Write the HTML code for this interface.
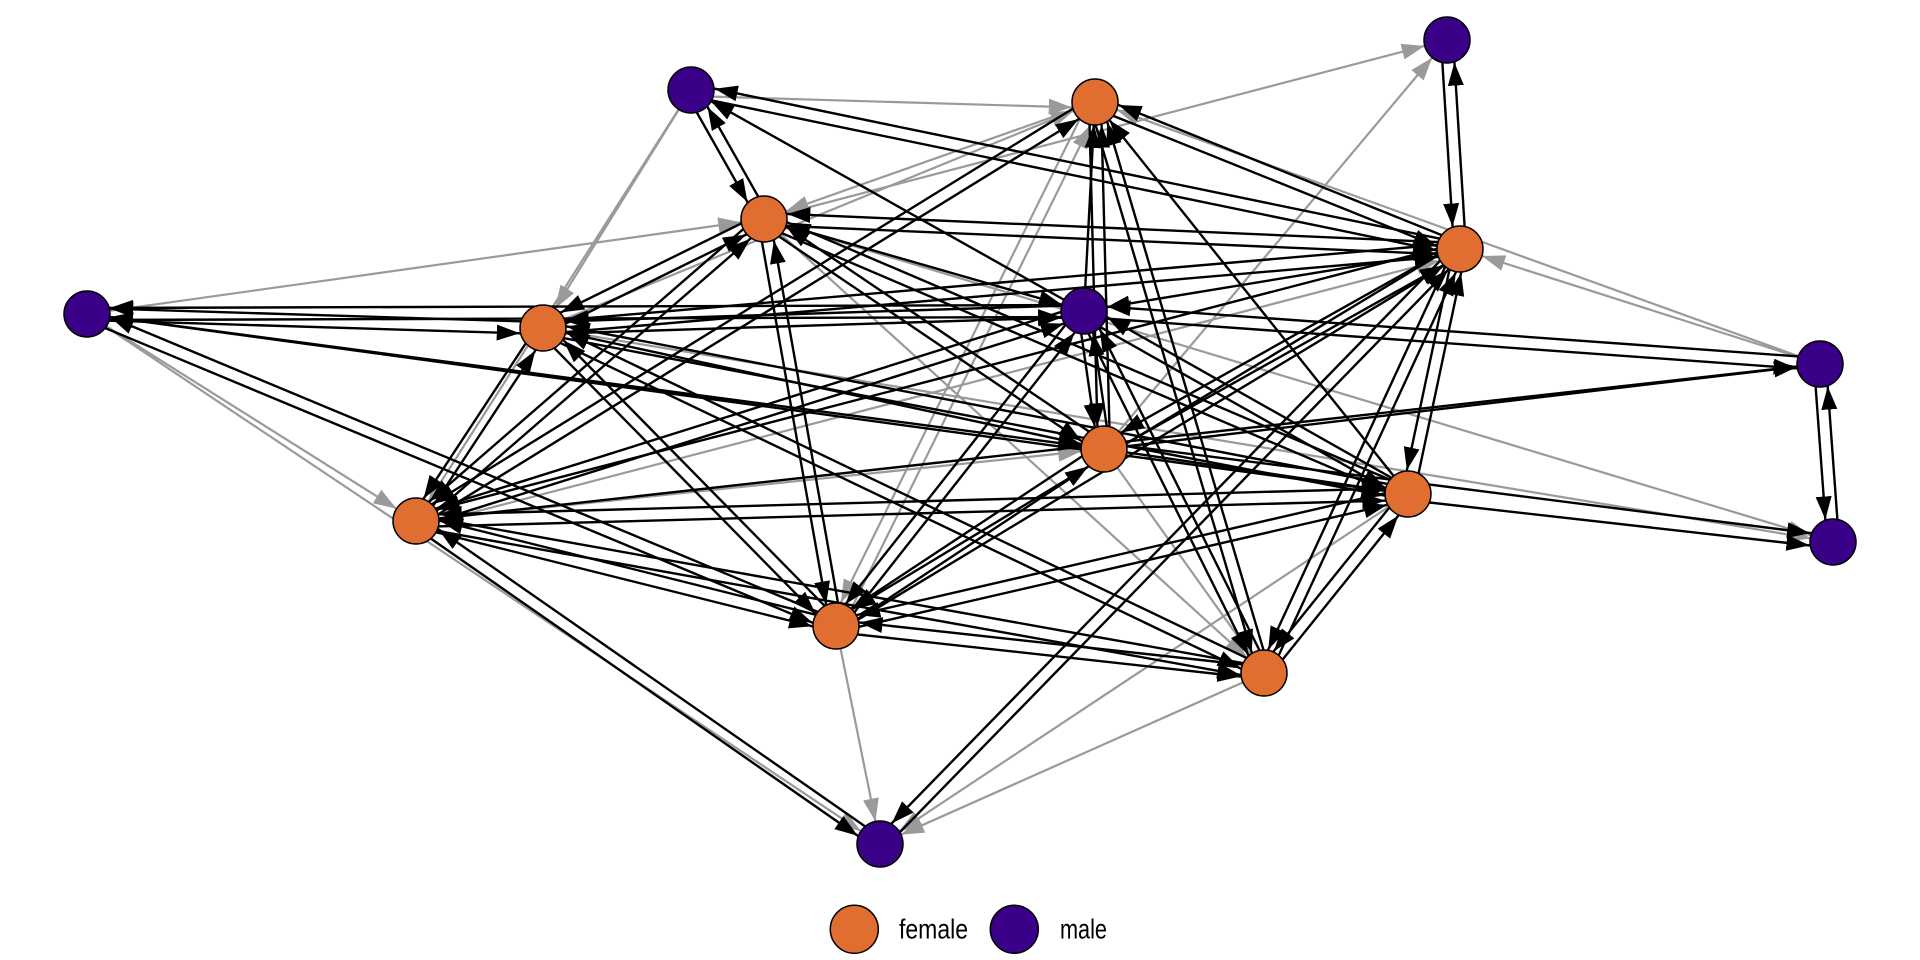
<!DOCTYPE html>
<html><head><meta charset="utf-8"><style>
html,body{margin:0;padding:0;background:#fff;}
svg{display:block;}
.g line{stroke:#9a9a9a;stroke-width:2.2;fill:none;marker-end:url(#mg);}
.b line{stroke:#000;stroke-width:2.4;fill:none;marker-end:url(#mb);}
.n circle{stroke:#000;stroke-width:1.5;}
</style></head><body>
<svg width="1920" height="960" viewBox="0 0 1920 960" xmlns="http://www.w3.org/2000/svg">
<defs>
<marker id="mb" markerUnits="userSpaceOnUse" markerWidth="23" markerHeight="17" refX="46" refY="8.5" orient="auto"><path d="M0,0.5 L23,8.5 L0,16.5 Z" fill="#000"/></marker>
<marker id="mg" markerUnits="userSpaceOnUse" markerWidth="23" markerHeight="17" refX="46" refY="8.5" orient="auto"><path d="M0,0.5 L23,8.5 L0,16.5 Z" fill="#9a9a9a"/></marker>
</defs>
<rect width="1920" height="960" fill="#fff"/>
<g class="g">
<line x1="690.8" y1="96" x2="1094.8" y2="108"/>
<line x1="417.5" y1="526.8" x2="1461.5" y2="254.8"/>
<line x1="1089.6" y1="99.3" x2="830.6" y2="623.3"/>
<line x1="841.4" y1="628.7" x2="1100.4" y2="104.7"/>
<line x1="691" y1="90" x2="543" y2="328"/>
<line x1="691" y1="90" x2="416" y2="521"/>
<line x1="1095" y1="102" x2="764" y2="219"/>
<line x1="764" y1="219" x2="1447" y2="40"/>
<line x1="1104" y1="449" x2="1447" y2="40"/>
<line x1="87" y1="314" x2="764" y2="219"/>
<line x1="87" y1="314" x2="416" y2="521"/>
<line x1="87" y1="314" x2="880" y2="844"/>
<line x1="1820" y1="364" x2="1460" y2="249"/>
<line x1="1820" y1="364" x2="1095" y2="102"/>
<line x1="836" y1="626" x2="880" y2="844"/>
<line x1="1264" y1="673" x2="880" y2="844"/>
<line x1="1408" y1="494" x2="880" y2="844"/>
<line x1="764" y1="219" x2="1264" y2="673"/>
<line x1="1104" y1="449" x2="1264" y2="673"/>
<line x1="416" y1="521" x2="1104" y2="449"/>
<line x1="764" y1="219" x2="1833" y2="542"/>
<line x1="543" y1="328" x2="1833" y2="542"/>
<line x1="543" y1="328" x2="1095" y2="102"/>
</g>
<g class="b">
<line x1="685.8" y1="93" x2="758.8" y2="222"/>
<line x1="769.2" y1="216" x2="696.2" y2="87"/>
<line x1="689.8" y1="95.9" x2="1458.8" y2="254.9"/>
<line x1="1461.2" y1="243.1" x2="692.2" y2="84.1"/>
<line x1="1092.8" y1="107.6" x2="1457.8" y2="254.6"/>
<line x1="1462.2" y1="243.4" x2="1097.2" y2="96.4"/>
<line x1="1091.9" y1="96.9" x2="412.9" y2="515.9"/>
<line x1="419.2" y1="526.1" x2="1098.2" y2="107.1"/>
<line x1="1441" y1="40.4" x2="1454" y2="249.4"/>
<line x1="1466" y1="248.6" x2="1453" y2="39.6"/>
<line x1="763.7" y1="225" x2="1459.7" y2="255"/>
<line x1="1460.3" y1="243" x2="764.3" y2="213"/>
<line x1="761.3" y1="213.6" x2="540.3" y2="322.6"/>
<line x1="545.7" y1="333.4" x2="766.7" y2="224.4"/>
<line x1="760.6" y1="224" x2="1100.6" y2="454"/>
<line x1="1107.4" y1="444" x2="767.4" y2="214"/>
<line x1="761.6" y1="224.5" x2="1405.6" y2="499.5"/>
<line x1="1410.4" y1="488.5" x2="766.4" y2="213.5"/>
<line x1="760.1" y1="214.5" x2="412.1" y2="516.5"/>
<line x1="419.9" y1="525.5" x2="767.9" y2="223.5"/>
<line x1="758.1" y1="220" x2="830.1" y2="627"/>
<line x1="841.9" y1="625" x2="769.9" y2="218"/>
<line x1="1459.5" y1="243" x2="542.5" y2="322"/>
<line x1="543.5" y1="334" x2="1460.5" y2="255"/>
<line x1="1457.1" y1="243.8" x2="1101.1" y2="443.8"/>
<line x1="1106.9" y1="454.2" x2="1462.9" y2="254.2"/>
<line x1="1454.1" y1="247.8" x2="1402.1" y2="492.8"/>
<line x1="1413.9" y1="495.2" x2="1465.9" y2="250.2"/>
<line x1="1456.9" y1="243.9" x2="832.9" y2="620.9"/>
<line x1="839.1" y1="631.1" x2="1463.1" y2="254.1"/>
<line x1="1454.6" y1="246.5" x2="1258.6" y2="670.5"/>
<line x1="1269.4" y1="675.5" x2="1465.4" y2="251.5"/>
<line x1="1455.7" y1="244.8" x2="875.7" y2="839.8"/>
<line x1="884.3" y1="848.2" x2="1464.3" y2="253.2"/>
<line x1="1458.5" y1="243.2" x2="414.5" y2="515.2"/>
<line x1="86.8" y1="320" x2="542.8" y2="334"/>
<line x1="543.2" y1="322" x2="87.2" y2="308"/>
<line x1="87" y1="320" x2="1084" y2="317"/>
<line x1="1084" y1="305" x2="87" y2="308"/>
<line x1="84.7" y1="319.5" x2="833.7" y2="631.5"/>
<line x1="838.3" y1="620.5" x2="89.3" y2="308.5"/>
<line x1="543.2" y1="334" x2="1084.2" y2="317"/>
<line x1="1083.8" y1="305" x2="542.8" y2="322"/>
<line x1="541.9" y1="333.9" x2="1406.9" y2="499.9"/>
<line x1="1409.1" y1="488.1" x2="544.1" y2="322.1"/>
<line x1="538" y1="324.7" x2="411" y2="517.7"/>
<line x1="421" y1="524.3" x2="548" y2="331.3"/>
<line x1="538.7" y1="332.2" x2="831.7" y2="630.2"/>
<line x1="840.3" y1="621.8" x2="547.3" y2="323.8"/>
<line x1="540.4" y1="333.4" x2="1261.4" y2="678.4"/>
<line x1="1266.6" y1="667.6" x2="545.6" y2="322.6"/>
<line x1="1083.6" y1="317" x2="1819.6" y2="370"/>
<line x1="1820.4" y1="358" x2="1084.4" y2="305"/>
<line x1="1078.1" y1="311.9" x2="1098.1" y2="449.9"/>
<line x1="1109.9" y1="448.1" x2="1089.9" y2="310.1"/>
<line x1="1081" y1="316.2" x2="1405" y2="499.2"/>
<line x1="1411" y1="488.8" x2="1087" y2="305.8"/>
<line x1="1082.2" y1="305.3" x2="414.2" y2="515.3"/>
<line x1="417.8" y1="526.7" x2="1085.8" y2="316.7"/>
<line x1="1079.3" y1="307.3" x2="831.3" y2="622.3"/>
<line x1="840.7" y1="629.7" x2="1088.7" y2="314.7"/>
<line x1="1078.6" y1="313.7" x2="1258.6" y2="675.7"/>
<line x1="1269.4" y1="670.3" x2="1089.4" y2="308.3"/>
<line x1="1814" y1="364.4" x2="1827" y2="542.4"/>
<line x1="1839" y1="541.6" x2="1826" y2="363.6"/>
<line x1="1100.7" y1="444" x2="832.7" y2="621"/>
<line x1="839.3" y1="631" x2="1107.3" y2="454"/>
<line x1="1407.3" y1="500" x2="1832.3" y2="548"/>
<line x1="1104" y1="443" x2="1833" y2="536"/>
<line x1="1407.8" y1="488" x2="415.8" y2="515"/>
<line x1="416.2" y1="527" x2="1408.2" y2="500"/>
<line x1="1406.7" y1="488.2" x2="834.7" y2="620.2"/>
<line x1="837.3" y1="631.8" x2="1409.3" y2="499.8"/>
<line x1="1403.3" y1="490.2" x2="1259.3" y2="669.2"/>
<line x1="1268.7" y1="676.8" x2="1412.7" y2="497.8"/>
<line x1="414.5" y1="526.8" x2="834.5" y2="631.8"/>
<line x1="837.5" y1="620.2" x2="417.5" y2="515.2"/>
<line x1="414.9" y1="526.9" x2="1262.9" y2="678.9"/>
<line x1="1265.1" y1="667.1" x2="417.1" y2="515.1"/>
<line x1="412.6" y1="525.9" x2="876.6" y2="848.9"/>
<line x1="883.4" y1="839.1" x2="419.4" y2="516.1"/>
<line x1="835.3" y1="632" x2="1263.3" y2="679"/>
<line x1="1264.7" y1="667" x2="836.7" y2="620"/>
<line x1="1089.3" y1="103.7" x2="1258.3" y2="674.7"/>
<line x1="1269.8" y1="671.3" x2="1100.8" y2="100.3"/>
<line x1="1089" y1="102.2" x2="1098" y2="449.2"/>
<line x1="1110" y1="448.8" x2="1101" y2="101.8"/>
<line x1="1084" y1="311" x2="691" y2="90"/>
<line x1="1084" y1="311" x2="1095" y2="102"/>
<line x1="1408" y1="494" x2="1095" y2="102"/>
<line x1="764" y1="219" x2="1084" y2="311"/>
<line x1="1460" y1="249" x2="1084" y2="311"/>
<line x1="87" y1="314" x2="1104" y2="449"/>
<line x1="1408" y1="494" x2="87" y2="314"/>
<line x1="543" y1="328" x2="1104" y2="449"/>
<line x1="1104" y1="449" x2="1820" y2="364"/>
<line x1="416" y1="521" x2="1820" y2="364"/>
<line x1="1104" y1="449" x2="1408" y2="494"/>
</g>
<g class="n">
<circle cx="691" cy="90" r="23" fill="#3a0088"/>
<circle cx="1095" cy="102" r="23" fill="#e06e30"/>
<circle cx="1447" cy="40" r="23" fill="#3a0088"/>
<circle cx="764" cy="219" r="23" fill="#e06e30"/>
<circle cx="1460" cy="249" r="23" fill="#e06e30"/>
<circle cx="87" cy="314" r="23" fill="#3a0088"/>
<circle cx="543" cy="328" r="23" fill="#e06e30"/>
<circle cx="1084" cy="311" r="23" fill="#3a0088"/>
<circle cx="1820" cy="364" r="23" fill="#3a0088"/>
<circle cx="1104" cy="449" r="23" fill="#e06e30"/>
<circle cx="1408" cy="494" r="23" fill="#e06e30"/>
<circle cx="1833" cy="542" r="23" fill="#3a0088"/>
<circle cx="416" cy="521" r="23" fill="#e06e30"/>
<circle cx="836" cy="626" r="23" fill="#e06e30"/>
<circle cx="1264" cy="673" r="23" fill="#e06e30"/>
<circle cx="880" cy="844" r="23" fill="#3a0088"/>
<circle cx="854.3" cy="929.3" r="24" fill="#e06e30"/>
<circle cx="1014.3" cy="929.3" r="24" fill="#3a0088"/>
</g>
<text x="899" y="938.5" font-family="'Liberation Sans', Arial, sans-serif" font-size="28" textLength="69" lengthAdjust="spacingAndGlyphs" fill="#000">female</text>
<text x="1060" y="938.5" font-family="'Liberation Sans', Arial, sans-serif" font-size="28" textLength="47" lengthAdjust="spacingAndGlyphs" fill="#000">male</text>
</svg>
</body></html>
